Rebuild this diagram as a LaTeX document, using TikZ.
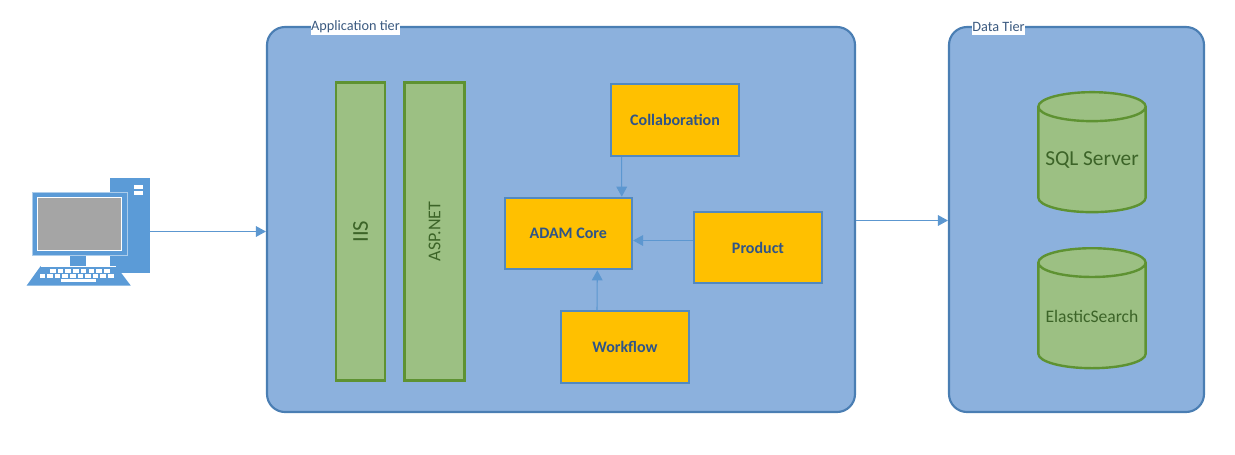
\documentclass[tikz,border=0pt]{standalone}
\usepackage{fontspec}
\setmainfont{Carlito}
\usetikzlibrary{shapes.geometric,arrows.meta}
\definecolor{tierfill}{HTML}{8CB1DD}
\definecolor{tierline}{HTML}{4A7EB3}
\definecolor{greenfill}{HTML}{9CC083}
\definecolor{greenline}{HTML}{5E9232}
\definecolor{greentext}{HTML}{3C6428}
\definecolor{amber}{HTML}{FFC000}
\definecolor{boxline}{HTML}{5289C0}
\definecolor{connline}{HTML}{5C97D0}
\definecolor{boxtext}{HTML}{2F5488}
\definecolor{pcblue}{HTML}{5B9BD7}
\definecolor{screengrey}{HTML}{A5A5A5}
\definecolor{labeltext}{HTML}{3B5A80}
\tikzset{
  tier/.style={draw=tierline,fill=tierfill,line width=1.6pt,rounded corners=13.5pt,minimum width=#1,minimum height=288.75pt,inner sep=0pt},
  tierlabel/.style={fill=white,text=labeltext,font=\fontsize{10.7}{12}\selectfont,inner xsep=0.4pt,inner ysep=0pt,minimum height=12.5pt},
  bar/.style={draw=greenline,fill=greenfill,line width=1.8pt,minimum height=223.5pt,minimum width=#1,inner sep=0pt,text=greentext},
  module/.style={draw=boxline,fill=amber,line width=1.7pt,minimum width=95.5pt,minimum height=53.5pt,inner sep=0pt,text=boxtext,font=\fontsize{12}{14}\selectfont\bfseries},
  store/.style={cylinder,shape border rotate=90,aspect=0.31,draw=greenline,fill=greenfill,line width=1.8pt,minimum width=80.5pt,minimum height=90pt,inner sep=0pt,text=greentext},
  conn/.style={draw=connline,line width=0.8pt,-{Triangle[length=7.5pt,width=8pt]}},
  keycap/.style={fill=white,draw=none}
}
\begin{document}
\begin{tikzpicture}[x=0.75pt,y=-0.75pt]
\useasboundingbox (0,0) rectangle (1235,454);
% tiers
\node[tier=441pt] (app) at (561,219.5) {};
\node[tier=191.25pt] (data) at (1076.5,219.5) {};
\node[tierlabel] (applabel) at (355.5,27) {Application tier};
\node[tierlabel] (datalabel) at (998.5,27) {Data Tier};
% bars
\node[bar=36.75pt,font=\fontsize{17}{20}\selectfont] (iis) at (360.5,231.5) {\rotatebox{90}{IIS}};
\node[bar=45pt,font=\fontsize{13.5}{15}\selectfont] (asp) at (434.5,231.5) {\rotatebox{90}{ASP.NET}};
% modules
\node[module] (coll) at (675,120) {Collaboration};
\node[module] (adam) at (568.3,233.5) {ADAM Core};
\node[module] (prod) at (758,247.5) {Product};
\node[module] (work) at (625,347) {Workflow};
% stores
\node[store,font=\fontsize{16}{19}\selectfont] (sql) at (1092,160) {SQL Server};
\node[store,font=\fontsize{13.2}{15}\selectfont] (elastic) at (1092,316) {ElasticSearch};
% computer
\fill[pcblue] (110,178) rectangle (150,273);
\fill[white] (134,185) rectangle (143,189);
\fill[white] (134,191) rectangle (143,194.5);
\fill[pcblue] (70,255) rectangle (86,267);
\draw[pcblue!50!white,line width=0.6pt,fill=pcblue] (32,192) rectangle (127,255);
\draw[white,line width=0.7pt,fill=screengrey] (37.3,197.3) rectangle (121,250);
\fill[pcblue] (40.7,266) -- (116,266) -- (130.7,285.5) -- (26.7,285.5) -- cycle;
\draw[white,line width=0.3pt] (40.7,266) -- (116,266);
\foreach \i in {0,...,7} \fill[keycap] ({50+\i*7.7},269) rectangle +(5.6,3.6);
\foreach \i in {0,...,9} \fill[keycap] ({39.5+\i*7.6},274.3) rectangle +(5.6,3.4);
\fill[keycap] (60.7,279) rectangle (96,281.7);
\coordinate (pc) at (150,231.5);
% connectors
\draw[conn] (pc) -- (pc -| app.west);
\draw[conn] ([yshift=-0.75pt]app.east) -- ([yshift=-0.75pt]data.west);
\draw[conn] ([xshift=-40.1pt]coll.south) -- ([xshift=40.1pt]adam.north);
\draw[conn] ([yshift=-5.25pt]prod.west |- adam.east) -- ([yshift=-5.25pt]adam.east);
\draw[conn] ([xshift=-21pt]work.north) -- ([xshift=21.75pt]adam.south);
\end{tikzpicture}
\end{document}
